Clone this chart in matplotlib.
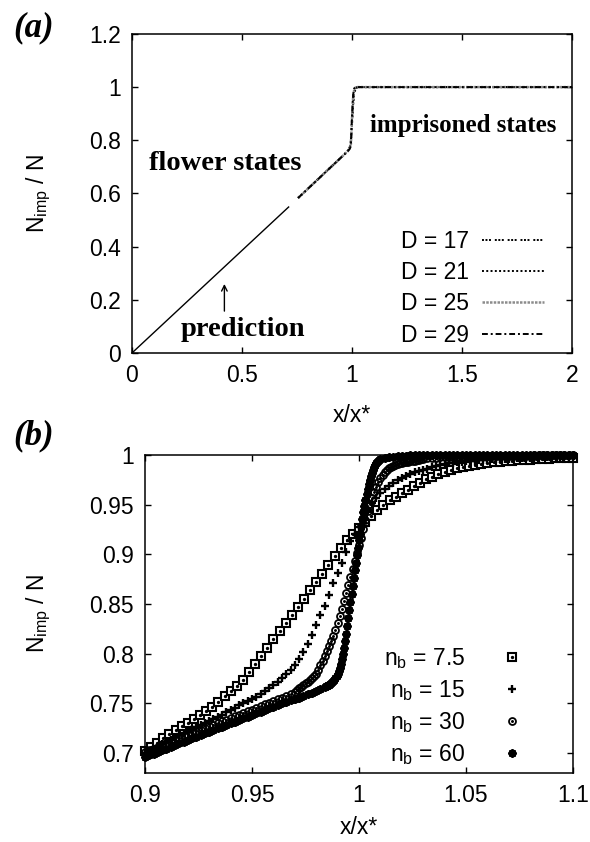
import numpy as np
import matplotlib.pyplot as plt
from matplotlib.ticker import FuncFormatter

plt.rcParams['font.family'] = ['Liberation Sans', 'DejaVu Sans']
plt.rcParams['mathtext.fontset'] = 'custom'
plt.rcParams['mathtext.rm'] = 'Liberation Sans'
plt.rcParams['mathtext.it'] = 'Liberation Sans:italic'

# ---- panel (a) data ----
pred_x = [0.0, 0.712]
pred_y = [0.0, 0.549]

xa = [0.755, 0.80, 0.85, 0.90, 0.95, 0.98, 0.99, 0.995, 1.0, 1.005, 1.01, 1.015, 1.02, 1.03, 1.5, 2.0]
d_labels = ['D = 17', 'D = 21', 'D = 25', 'D = 29']
ya_d17 = [0.583, 0.618, 0.657, 0.696, 0.735, 0.760, 0.775, 0.80, 0.86, 0.93, 0.975, 0.99, 0.997, 1.0, 1.0, 1.0]
ya_d21 = [0.583, 0.618, 0.657, 0.696, 0.735, 0.759, 0.772, 0.79, 0.87, 0.95, 0.985, 0.995, 0.999, 1.0, 1.0, 1.0]
ya_d25 = [0.583, 0.618, 0.657, 0.696, 0.735, 0.758, 0.770, 0.785, 0.88, 0.96, 0.99, 0.998, 1.0, 1.0, 1.0, 1.0]
ya_d29 = [0.583, 0.618, 0.657, 0.696, 0.735, 0.758, 0.768, 0.78, 0.89, 0.97, 0.995, 0.999, 1.0, 1.0, 1.0, 1.0]

# ---- panel (b) data ----
nb_labels = [r'n$_\mathrm{b}$ = 7.5', r'n$_\mathrm{b}$ = 15', r'n$_\mathrm{b}$ = 30', r'n$_\mathrm{b}$ = 60']

# n_b = 7.5, 0.9 .. 1.1
y75 = [0.702, 0.706, 0.710, 0.715, 0.719, 0.723, 0.727, 0.730, 0.734, 0.738,
       0.742, 0.746, 0.751, 0.758, 0.763, 0.768, 0.774, 0.782, 0.790, 0.798,
       0.806, 0.815, 0.823, 0.831, 0.839, 0.847, 0.855, 0.864, 0.872, 0.880,
       0.889, 0.898, 0.906, 0.914, 0.921, 0.927, 0.933, 0.939, 0.945, 0.950,
       0.955, 0.958, 0.962, 0.965, 0.969, 0.972, 0.9755, 0.978, 0.981, 0.983,
       0.985, 0.9866, 0.988, 0.989, 0.990, 0.991, 0.992, 0.9925, 0.993, 0.9935,
       0.994, 0.9945, 0.995, 0.995, 0.9955, 0.996, 0.996, 0.9965, 0.9965, 0.997,
       0.997]

# n_b = 15, 0.9 .. 1.1
y15 = [0.700, 0.702, 0.704, 0.707, 0.709, 0.711, 0.713, 0.716, 0.718, 0.720,
       0.722, 0.724, 0.726, 0.728, 0.730, 0.732, 0.734, 0.736, 0.738, 0.741,
       0.743, 0.745, 0.748, 0.750, 0.752, 0.755, 0.757, 0.760, 0.763, 0.766,
       0.769, 0.772, 0.776, 0.780, 0.784, 0.789, 0.795, 0.802, 0.810, 0.819,
       0.829, 0.839, 0.848, 0.859, 0.871, 0.881, 0.891, 0.902, 0.913, 0.921,
       0.928, 0.937, 0.945, 0.952, 0.957, 0.962, 0.966, 0.969, 0.972, 0.975,
       0.977, 0.979, 0.981, 0.983, 0.984, 0.985, 0.986, 0.988, 0.989, 0.990,
       0.991, 0.9915, 0.992, 0.9925, 0.993, 0.9935, 0.994, 0.9943, 0.9946, 0.995,
       0.9952, 0.9955, 0.9957, 0.996, 0.9962, 0.9964, 0.9966, 0.9968, 0.997, 0.9971,
       0.9972, 0.9974, 0.9975, 0.9976, 0.9977, 0.9978, 0.9979, 0.998, 0.998, 0.9981,
       0.9982]

# n_b = 30: 0.900-0.970, 0.971-1.030, 1.032-1.100
y30_a = [0.701, 0.703, 0.704, 0.706, 0.708, 0.710, 0.711, 0.713, 0.715, 0.717,
         0.718, 0.720, 0.722, 0.723, 0.725, 0.727, 0.728, 0.730, 0.732, 0.733,
         0.735, 0.737, 0.738, 0.740, 0.742, 0.743, 0.745, 0.747, 0.749, 0.750,
         0.752, 0.754, 0.756, 0.758, 0.760, 0.762]
y30_b = [0.764, 0.766, 0.767, 0.769, 0.771, 0.772, 0.774, 0.776, 0.778, 0.780,
         0.784, 0.789, 0.793, 0.798, 0.803, 0.808, 0.813, 0.818, 0.824, 0.831,
         0.838, 0.845, 0.853, 0.861, 0.869, 0.877, 0.885, 0.893, 0.901, 0.909,
         0.917, 0.926, 0.935, 0.944, 0.951, 0.957, 0.963, 0.968, 0.973, 0.977,
         0.980, 0.983, 0.985, 0.987, 0.988, 0.989, 0.990, 0.991, 0.9915, 0.992,
         0.9925, 0.993, 0.9933, 0.9936, 0.994, 0.9944, 0.9948, 0.9952, 0.9956, 0.996]
y30_c = [0.9965, 0.997, 0.9973, 0.9976, 0.998, 0.998, 0.9983, 0.9985, 0.9985, 0.9987,
         0.9988, 0.9988, 0.999, 0.999, 0.999, 0.9991, 0.9992, 0.9992, 0.9993, 0.9993,
         0.9994, 0.9994, 0.9995, 0.9995, 0.9995, 0.9996, 0.9996, 0.9996, 0.9997, 0.9997,
         0.9997, 0.9998, 0.9998, 0.9998, 0.9999]

# n_b = 60: 0.900-0.984, 0.9845-1.010, 1.012-1.100
y60_a = [0.696, 0.698, 0.699, 0.701, 0.703, 0.704, 0.706, 0.708, 0.710, 0.711,
         0.713, 0.715, 0.716, 0.718, 0.720, 0.721, 0.723, 0.725, 0.726, 0.728,
         0.730, 0.731, 0.733, 0.735, 0.736, 0.738, 0.740, 0.741, 0.743, 0.745,
         0.746, 0.748, 0.750, 0.751, 0.753, 0.755, 0.756, 0.758, 0.760, 0.761,
         0.763, 0.765, 0.767]
y60_b = [0.7675, 0.768, 0.7685, 0.769, 0.770, 0.771, 0.772, 0.773, 0.774, 0.776,
         0.778, 0.780, 0.783, 0.786, 0.790, 0.795, 0.800, 0.806, 0.813, 0.820,
         0.828, 0.836, 0.844, 0.852, 0.860, 0.868, 0.876, 0.884, 0.891, 0.899,
         0.906, 0.914, 0.921, 0.929, 0.936, 0.943, 0.949, 0.955, 0.961, 0.966,
         0.971, 0.975, 0.979, 0.982, 0.985, 0.988, 0.990, 0.992, 0.993, 0.994,
         0.995, 0.996]
y60_c = [0.997, 0.998, 0.9985, 0.999, 0.9993, 0.9995, 0.9996, 0.9997, 0.9998, 0.9998,
         1.0, 1.0, 1.0, 1.0, 1.0, 1.0, 1.0, 1.0, 1.0, 1.0,
         1.0, 1.0, 1.0, 1.0, 1.0, 1.0, 1.0, 1.0, 1.0, 1.0,
         1.0, 1.0, 1.0, 1.0, 1.0, 1.0, 1.0, 1.0, 1.0, 1.0,
         1.0, 1.0, 1.0, 1.0, 1.0]

# sampling grids of the series
x75 = np.linspace(0.9, 1.1, len(y75))
x15 = np.linspace(0.9, 1.1, len(y15))
x30 = np.concatenate([np.linspace(0.9, 0.97, len(y30_a)),
                      np.linspace(0.971, 1.03, len(y30_b)),
                      np.linspace(1.032, 1.1, len(y30_c))])
y30 = y30_a + y30_b + y30_c
x60 = np.concatenate([np.linspace(0.9, 0.984, len(y60_a)),
                      np.linspace(0.9845, 1.01, len(y60_b)),
                      np.linspace(1.012, 1.1, len(y60_c))])
y60 = y60_a + y60_b + y60_c

fmt = FuncFormatter(lambda v, p: '%g' % v)
fs = 16.5

fig = plt.figure(figsize=(5.9, 8.42), dpi=100)

# ---------------- (a) ----------------
ax = fig.add_axes([0.2237, 0.5808, 0.7458, 0.3789])
ax.plot(pred_x, pred_y, color='black', lw=1.0)
ax.plot(xa, ya_d17, color='black', lw=1.4, ls=(0, (1, 0.8, 1, 0.8, 1, 2)), label=d_labels[0])
ax.plot(xa, ya_d21, color='black', lw=1.4, ls=(0, (1, 1.2)), label=d_labels[1])
ax.plot(xa, ya_d25, color='0.55', lw=1.8, ls=(0, (1, 0.5)), label=d_labels[2])
ax.plot(xa, ya_d29, color='black', lw=1.4, ls=(0, (3, 1.5, 1, 1.5)), label=d_labels[3])
ax.set_xlim(0, 2)
ax.set_ylim(0, 1.2)
ax.set_xticks([0, 0.5, 1, 1.5, 2])
ax.set_yticks([0, 0.2, 0.4, 0.6, 0.8, 1.0, 1.2])
ax.xaxis.set_major_formatter(fmt)
ax.yaxis.set_major_formatter(fmt)
ax.tick_params(direction='in', top=True, right=True, length=4.5, width=1, labelsize=fs, pad=8)
ax.set_xlabel('x/x*', fontsize=fs)
ax.set_ylabel(r'N$_\mathrm{imp}$ / N', fontsize=fs)
ax.xaxis.set_label_coords(0.5, -0.16)
ax.yaxis.set_label_coords(-0.18, 0.5)
for s in ax.spines.values():
    s.set_linewidth(1.1)

ax.text(0.077, 0.688, 'flower states', family='Liberation Serif', weight='bold', fontsize=20.5)
ax.text(1.08, 0.833, 'imprisoned states', family='Liberation Serif', weight='bold', fontsize=18)
ax.text(0.22, 0.065, 'prediction', family='Liberation Serif', weight='bold', fontsize=20.5)
ax.annotate('', xy=(0.42, 0.27), xytext=(0.42, 0.147),
            arrowprops=dict(arrowstyle='->', lw=1.0, color='black'))

ax.legend(loc='lower right', bbox_to_anchor=(0.936, 0.02), frameon=False, fontsize=fs,
          markerfirst=False, handlelength=2.7, handletextpad=0.57, labelspacing=0.36,
          borderpad=0, borderaxespad=0)

fig.text(0.057, 0.967, '(a)', family='Liberation Serif', weight='bold', style='italic',
         fontsize=25, ha='center', va='center')

# ---------------- (b) ----------------
bx = fig.add_axes([0.2458, 0.0819, 0.7254, 0.3777])
h1 = bx.plot(x75, y75, ls='none', marker='s', ms=6, mec='black', mfc='white', mew=1.5, clip_on=False)[0]
d1 = bx.plot(x75, y75, ls='none', marker='o', ms=1.4, color='black', clip_on=False)[0]
h2 = bx.plot(x15, y15, ls='none', marker='+', ms=6, color='black', mew=1.7, clip_on=False)[0]
h3 = bx.plot(x30, y30, ls='none', marker='o', ms=5, mec='black', mfc='none', mew=1.3, clip_on=False)[0]
d3 = bx.plot(x30, y30, ls='none', marker='o', ms=1.1, color='black', clip_on=False)[0]
h4 = bx.plot(x60, y60, ls='none', marker=(8, 2, 0), ms=6, color='black', mew=1.5, clip_on=False)[0]
bx.set_xlim(0.9, 1.1)
bx.set_ylim(0.68, 1.0)
bx.set_xticks([0.9, 0.95, 1.0, 1.05, 1.1])
bx.set_yticks([0.7, 0.75, 0.8, 0.85, 0.9, 0.95, 1.0])
bx.xaxis.set_major_formatter(fmt)
bx.yaxis.set_major_formatter(fmt)
bx.tick_params(direction='in', top=True, right=True, length=4.5, width=1, labelsize=fs, pad=8)
bx.set_xlabel('x/x*', fontsize=fs)
bx.set_ylabel(r'N$_\mathrm{imp}$ / N', fontsize=fs)
bx.xaxis.set_label_coords(0.5, -0.135)
bx.yaxis.set_label_coords(-0.215, 0.5)
for s in bx.spines.values():
    s.set_linewidth(1.1)

bx.legend([(h1, d1), h2, (h3, d3), h4], nb_labels, loc='lower right',
          bbox_to_anchor=(0.884, 0.02), frameon=False, fontsize=fs, markerfirst=False,
          handlelength=1.0, handletextpad=1.55, labelspacing=0.3, borderpad=0, borderaxespad=0)

fig.text(0.057, 0.483, '(b)', family='Liberation Serif', weight='bold', style='italic',
         fontsize=25, ha='center', va='center')

fig.savefig('out.png', dpi=100)
